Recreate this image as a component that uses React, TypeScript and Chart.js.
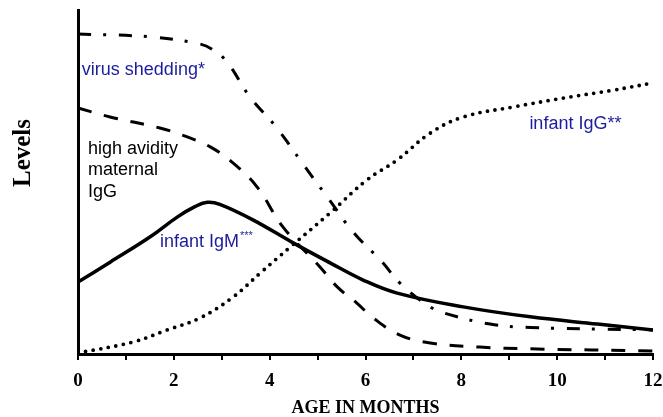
import React, { useEffect, useRef } from "react";
import { Chart, registerables } from "chart.js";

Chart.register(...registerables);

// ---- data (months, relative levels 0..100) ----
const virusMonths = [0, 1.5, 2.55, 2.82, 3.11, 3.59, 4.15, 4.68, 5.22, 5.74, 6.35, 6.72, 7.35, 7.72, 8.6, 9.44, 12];
const virusLevels = [93.0, 92.2, 90.1, 88.4, 84.9, 74.7, 65.7, 55.5, 45.3, 35.5, 26.7, 20.6, 13.7, 11.6, 8.7, 7.7, 7.0];

const maternalMonths = [0, 0.67, 1.71, 2.28, 2.76, 3.24, 3.74, 4.28, 5.05, 5.41, 5.82, 6.16, 6.72, 7.35, 8.39, 9.44, 12];
const maternalLevels = [71.5, 68.9, 65.7, 63.1, 60.2, 55.5, 48.5, 36.9, 25.3, 19.5, 14.8, 10.5, 5.5, 3.2, 2.0, 1.5, 0.9];

const igmMonths = [0, 0.67, 1.5, 2.07, 2.45, 2.7, 2.96, 3.65, 4.49, 5.26, 5.95, 6.66, 8.04, 9.44, 10.84, 12];
const igmLevels = [20.9, 26.7, 34.0, 39.8, 42.9, 44.1, 43.5, 39.0, 32.3, 26.5, 21.5, 17.7, 13.7, 10.8, 8.7, 7.0];

const iggMonths = [0, 1.15, 1.86, 2.55, 3.24, 3.8, 4.43, 5.26, 6.03, 6.66, 7.35, 8.04, 9.08, 10.13, 11.17, 12];
const iggLevels = [0.3, 3.5, 7.0, 10.5, 16.6, 23.5, 31.1, 41.0, 50.6, 56.4, 64.2, 68.9, 71.8, 74.4, 76.7, 78.8];

// ---- annotations ----
const noteTexts = ["virus shedding*", "high avidity", "maternal", "IgG", "infant IgM", "infant IgG**"];
const noteSups = ["", "", "", "", "***", ""];
const noteMonths = [0.08, 0.21, 0.21, 0.21, 1.71, 9.42];
const noteLevels = [81.1, 58.1, 52.0, 45.6, 31.1, 65.4];
const noteColors = ["#1c1c9c", "#000000", "#000000", "#000000", "#1c1c9c", "#1c1c9c"];

const xTitle = "AGE IN MONTHS";
const yTitle = "Levels";

const serif = '"Liberation Serif", "Times New Roman", serif';
const sans = '"Liberation Sans", Arial, sans-serif';

const toPoints = (xs: number[], ys: number[]) => xs.map((m, i) => ({ x: m, y: ys[i] }));

const notesPlugin = {
  id: "notes",
  afterDatasetsDraw(chart: any) {
    const { ctx, scales, chartArea } = chart;
    const xs = scales.x;
    const ys = scales.y;
    ctx.save();
    ctx.textAlign = "left";
    ctx.textBaseline = "alphabetic";
    noteTexts.forEach((t, i) => {
      const px = xs.getPixelForValue(noteMonths[i]);
      const py = ys.getPixelForValue(noteLevels[i]);
      ctx.font = `18px ${sans}`;
      ctx.fillStyle = noteColors[i];
      ctx.fillText(t, px, py);
      if (noteSups[i]) {
        const w = ctx.measureText(t).width;
        ctx.font = `11px ${sans}`;
        ctx.fillText(noteSups[i], px + w + 1, py - 8);
      }
    });
    // y axis title
    ctx.translate(chartArea.left - 54, chartArea.top + 143);
    ctx.rotate(-Math.PI / 2);
    ctx.textAlign = "center";
    ctx.textBaseline = "middle";
    ctx.fillStyle = "#000";
    ctx.font = `bold 25px ${serif}`;
    ctx.fillText(yTitle, 0, 0);
    ctx.restore();
  },
};

export default function App() {
  const ref = useRef<HTMLCanvasElement>(null);
  useEffect(() => {
    if (!ref.current) return;
    const chart = new Chart(ref.current, {
      type: "line",
      data: {
        datasets: [
          {
            label: "virus shedding",
            data: toPoints(virusMonths, virusLevels),
            borderColor: "#000",
            borderWidth: 3,
            borderDash: [13, 12, 3, 13],
            borderCapStyle: "butt",
            tension: 0.4,
            pointRadius: 0,
            fill: false,
          },
          {
            label: "high avidity maternal IgG",
            data: toPoints(maternalMonths, maternalLevels),
            borderColor: "#000",
            borderWidth: 3,
            borderDash: [14, 13],
            borderCapStyle: "butt",
            tension: 0.4,
            pointRadius: 0,
            fill: false,
          },
          {
            label: "infant IgM",
            data: toPoints(igmMonths, igmLevels),
            borderColor: "#000",
            borderWidth: 3.5,
            tension: 0.4,
            pointRadius: 0,
            fill: false,
          },
          {
            label: "infant IgG",
            data: toPoints(iggMonths, iggLevels),
            borderColor: "#000",
            borderWidth: 3.8,
            borderDash: [0, 7.7],
            borderCapStyle: "round",
            tension: 0.4,
            pointRadius: 0,
            fill: false,
          },
        ],
      },
      options: {
        animation: false,
        responsive: false,
        devicePixelRatio: 1,
        layout: { padding: { top: 10, right: 0, left: 0, bottom: 0 } },
        plugins: { legend: { display: false }, tooltip: { enabled: false } },
        scales: {
          x: {
            type: "linear",
            min: 0,
            max: 12,
            afterFit: (s: any) => {
              s.height = 63;
              s.paddingRight = 10;
              s.paddingLeft = 0;
            },
            ticks: {
              stepSize: 1,
              autoSkip: false,
              maxRotation: 0,
              padding: 10,
              color: "#000",
              font: { family: serif, size: 19, weight: "bold" },
              callback: (v: any) => (Number(v) % 2 === 0 ? String(v) : ""),
            },
            grid: {
              display: true,
              drawOnChartArea: false,
              drawTicks: true,
              tickLength: 6,
              color: "#000",
              lineWidth: 2,
            },
            border: { display: true, color: "#000", width: 3 },
            title: {
              display: true,
              text: xTitle,
              color: "#000",
              font: { family: serif, size: 18, weight: "bold", lineHeight: 1 },
              padding: { top: 0, bottom: 0 },
            },
          },
          y: {
            type: "linear",
            min: 0,
            max: 100,
            afterFit: (s: any) => {
              s.width = 78;
            },
            ticks: { display: false },
            grid: { display: false, drawTicks: false },
            border: { display: true, color: "#000", width: 3 },
          },
        },
      },
      plugins: [notesPlugin],
    } as any);
    return () => chart.destroy();
  }, []);
  return (
    <div style={{ position: "absolute", left: 0, top: 0, width: 663, height: 417, background: "#fff" }}>
      <canvas ref={ref} width={663} height={417} style={{ display: "block" }} />
    </div>
  );
}
